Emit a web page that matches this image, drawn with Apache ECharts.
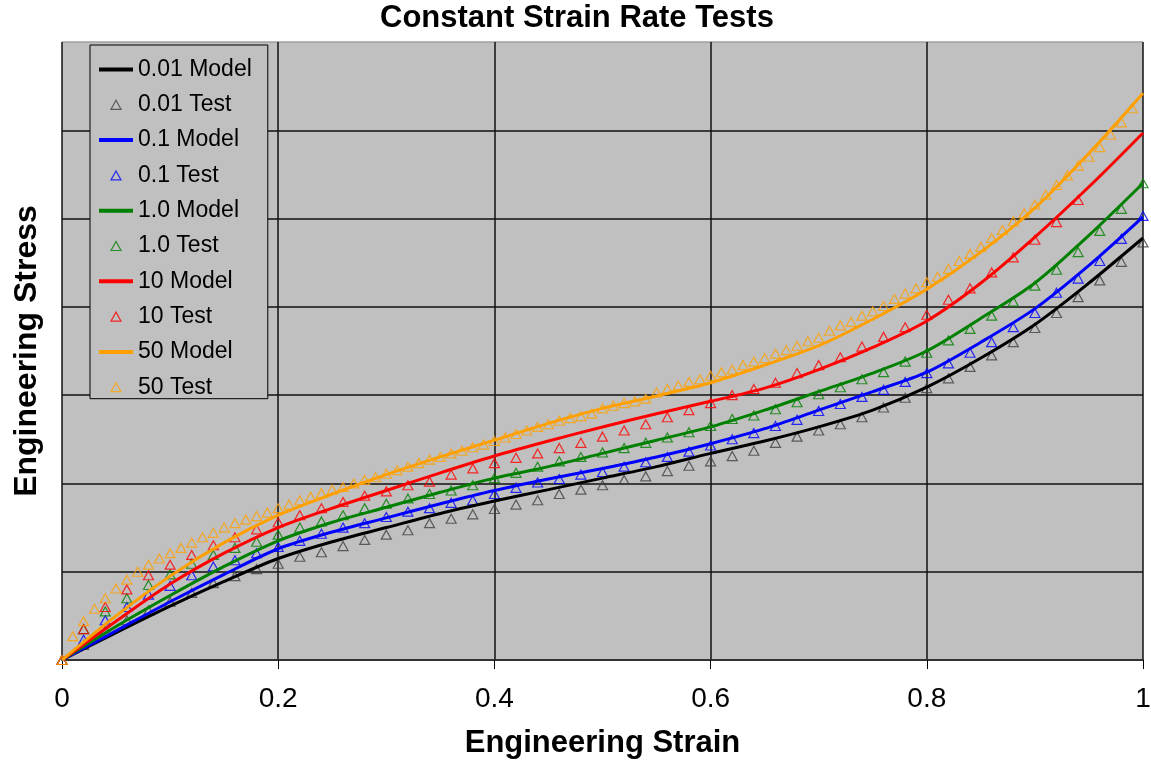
<!DOCTYPE html>
<html><head><meta charset="utf-8">
<script src="https://cdn.jsdelivr.net/npm/echarts@6/dist/echarts.min.js"></script>
<style>html,body{margin:0;padding:0;background:#fff}#chart{width:1151px;height:763px}</style>
</head><body><div id="chart"></div>
<script>
// ---- data ----
const modelStrain = [0, 0.05, 0.1, 0.15, 0.2, 0.25, 0.3, 0.35, 0.4, 0.45, 0.5, 0.55, 0.6, 0.65, 0.7, 0.75, 0.8, 0.85, 0.9, 0.95, 1.0];
const model001 = [0, 0.31, 0.61, 0.89, 1.15, 1.34, 1.50, 1.66, 1.80, 1.93, 2.06, 2.19, 2.34, 2.48, 2.64, 2.83, 3.09, 3.42, 3.80, 4.27, 4.78];
const model01  = [0, 0.33, 0.66, 0.97, 1.26, 1.45, 1.61, 1.77, 1.92, 2.05, 2.17, 2.30, 2.45, 2.62, 2.83, 3.04, 3.26, 3.60, 3.98, 4.47, 5.02];
const model1   = [0, 0.38, 0.73, 1.06, 1.35, 1.56, 1.73, 1.90, 2.06, 2.19, 2.34, 2.49, 2.64, 2.83, 3.04, 3.25, 3.50, 3.87, 4.27, 4.81, 5.40];
const model10  = [0, 0.44, 0.86, 1.21, 1.50, 1.72, 1.92, 2.12, 2.31, 2.48, 2.64, 2.79, 2.93, 3.08, 3.29, 3.54, 3.84, 4.27, 4.79, 5.36, 5.97];
const model50  = [0, 0.50, 0.95, 1.33, 1.64, 1.88, 2.10, 2.30, 2.49, 2.68, 2.85, 2.99, 3.14, 3.34, 3.56, 3.86, 4.20, 4.62, 5.12, 5.74, 6.42];

const testStrain = [0, 0.02, 0.04, 0.06, 0.08, 0.1, 0.12, 0.14, 0.16, 0.18, 0.2, 0.22, 0.24, 0.26, 0.28, 0.3, 0.32, 0.34, 0.36, 0.38, 0.4, 0.42, 0.44, 0.46, 0.48, 0.5, 0.52, 0.54, 0.56, 0.58, 0.6, 0.62, 0.64, 0.66, 0.68, 0.7, 0.72, 0.74, 0.76, 0.78, 0.8, 0.82, 0.84, 0.86, 0.88, 0.9, 0.92, 0.94, 0.96, 0.98, 1.0];
const test001 = [0, 0.17, 0.33, 0.45, 0.56, 0.66, 0.76, 0.87, 0.95, 1.03, 1.09, 1.17, 1.22, 1.29, 1.36, 1.42, 1.47, 1.55, 1.60, 1.65, 1.71, 1.76, 1.81, 1.88, 1.93, 1.98, 2.04, 2.08, 2.14, 2.20, 2.25, 2.31, 2.37, 2.46, 2.53, 2.60, 2.67, 2.75, 2.86, 2.97, 3.08, 3.19, 3.32, 3.45, 3.60, 3.76, 3.93, 4.11, 4.30, 4.51, 4.73];
const test01  = [0, 0.23, 0.45, 0.60, 0.74, 0.84, 0.96, 1.06, 1.13, 1.21, 1.28, 1.35, 1.43, 1.50, 1.55, 1.62, 1.68, 1.72, 1.78, 1.81, 1.88, 1.95, 2.01, 2.05, 2.10, 2.13, 2.19, 2.24, 2.30, 2.36, 2.43, 2.50, 2.57, 2.65, 2.72, 2.82, 2.90, 2.98, 3.06, 3.15, 3.25, 3.36, 3.48, 3.60, 3.77, 3.93, 4.16, 4.32, 4.52, 4.77, 5.03];
const test1   = [0, 0.35, 0.55, 0.70, 0.85, 0.97, 1.09, 1.19, 1.27, 1.34, 1.42, 1.50, 1.57, 1.64, 1.72, 1.77, 1.83, 1.88, 1.92, 1.98, 2.06, 2.12, 2.19, 2.25, 2.30, 2.35, 2.40, 2.46, 2.52, 2.58, 2.65, 2.73, 2.77, 2.84, 2.92, 3.01, 3.09, 3.18, 3.26, 3.38, 3.48, 3.62, 3.75, 3.90, 4.06, 4.24, 4.42, 4.62, 4.86, 5.11, 5.40];
const test10  = [0, 0.35, 0.60, 0.80, 0.96, 1.08, 1.19, 1.30, 1.39, 1.48, 1.56, 1.64, 1.72, 1.79, 1.86, 1.91, 1.98, 2.02, 2.10, 2.17, 2.23, 2.29, 2.34, 2.40, 2.46, 2.53, 2.60, 2.67, 2.75, 2.83, 2.91, 3.00, 3.07, 3.14, 3.25, 3.34, 3.43, 3.55, 3.66, 3.77, 3.91, 4.08, 4.21, 4.39, 4.56, 4.76, 4.96, 5.21];

const testStrain50 = [0, 0.01, 0.02, 0.03, 0.04, 0.05, 0.06, 0.07, 0.08, 0.09, 0.1, 0.11, 0.12, 0.13, 0.14, 0.15, 0.16, 0.17, 0.18, 0.19, 0.2, 0.21, 0.22, 0.23, 0.24, 0.25, 0.26, 0.27, 0.28, 0.29, 0.3, 0.31, 0.32, 0.33, 0.34, 0.35, 0.36, 0.37, 0.38, 0.39, 0.4, 0.41, 0.42, 0.43, 0.44, 0.45, 0.46, 0.47, 0.48, 0.49, 0.5, 0.51, 0.52, 0.53, 0.54, 0.55, 0.56, 0.57, 0.58, 0.59, 0.6, 0.61, 0.62, 0.63, 0.64, 0.65, 0.66, 0.67, 0.68, 0.69, 0.7, 0.71, 0.72, 0.73, 0.74, 0.75, 0.76, 0.77, 0.78, 0.79, 0.8, 0.81, 0.82, 0.83, 0.84, 0.85, 0.86, 0.87, 0.88, 0.89, 0.9, 0.91, 0.92, 0.93, 0.94, 0.95, 0.96, 0.97, 0.98, 0.99];
const test50 = [0, 0.27, 0.44, 0.58, 0.70, 0.81, 0.91, 1.00, 1.08, 1.15, 1.21, 1.27, 1.33, 1.39, 1.44, 1.50, 1.55, 1.59, 1.63, 1.67, 1.72, 1.76, 1.81, 1.85, 1.89, 1.93, 1.96, 2.00, 2.04, 2.07, 2.11, 2.15, 2.19, 2.23, 2.27, 2.30, 2.34, 2.37, 2.41, 2.44, 2.48, 2.52, 2.56, 2.60, 2.64, 2.67, 2.71, 2.74, 2.76, 2.79, 2.85, 2.88, 2.91, 2.93, 2.96, 3.03, 3.07, 3.11, 3.15, 3.18, 3.22, 3.26, 3.29, 3.34, 3.38, 3.42, 3.47, 3.51, 3.56, 3.61, 3.65, 3.73, 3.79, 3.83, 3.90, 3.95, 4.01, 4.09, 4.15, 4.21, 4.28, 4.34, 4.43, 4.52, 4.60, 4.68, 4.78, 4.87, 4.97, 5.06, 5.16, 5.27, 5.38, 5.49, 5.60, 5.70, 5.81, 5.95, 6.09, 6.25];

const rateLabels = ['0.01', '0.1', '1.0', '10', '50'];
const xTickLabels = ['0', '0.2', '0.4', '0.6', '0.8', '1'];

// ---- styles ----
const lineColors = ['#000000', '#0000ff', '#008000', '#ff0000', '#ffa000'];
const markColors = ['#404040', '#0000ff', '#008000', '#ff0000', '#ffa000'];
const FONT = 'Liberation Sans, Arial, sans-serif';
// legend triangle (10x9) centred in a 34x9 box, so it is not stretched
const legendTriangle = 'path://M0,0 M34,9 M12,9 L17,0 L22,9 Z';

const models = [model001, model01, model1, model10, model50];
const tests = [[testStrain, test001], [testStrain, test01], [testStrain, test1], [testStrain, test10], [testStrain50, test50]];

function pairs(xs, ys) { return ys.map((v, i) => [xs[i], v]); }

const series = [];
const legendData = [];
rateLabels.forEach((r, k) => {
  legendData.push({ name: r + ' Model', itemStyle: { color: 'rgba(0,0,0,0)', borderWidth: 0 },
    lineStyle: { width: 4, color: lineColors[k] } });
  legendData.push({ name: r + ' Test', icon: legendTriangle,
    itemStyle: { color: 'rgba(0,0,0,0)', borderColor: markColors[k], borderWidth: 1.2 } });
  series.push({
    name: r + ' Model', type: 'line', data: pairs(modelStrain, models[k]),
    symbol: 'none', smooth: 0.3, color: lineColors[k],
    lineStyle: { width: 3, color: lineColors[k] }, silent: true
  });
  series.push({
    name: r + ' Test', type: 'scatter', data: pairs(tests[k][0], tests[k][1]),
    symbol: 'triangle', symbolSize: [10, 9], color: markColors[k],
    itemStyle: { color: 'rgba(0,0,0,0)', borderColor: markColors[k], borderWidth: 1.2 },
    silent: true
  });
});

const yLineColors = ['#111', '#111', '#111', '#111', '#111', '#111', '#111', '#a0a0a0'];

const chart = echarts.init(document.getElementById('chart'));
chart.setOption({
  animation: false,
  backgroundColor: '#ffffff',
  title: {
    text: 'Constant Strain Rate Tests', left: 380, top: 3, padding: 0,
    textStyle: { fontFamily: FONT, fontWeight: 'bold', fontSize: 31, color: '#000' }
  },
  grid: { left: 62, right: 8, top: 42, bottom: 103, show: true, backgroundColor: '#c0c0c0', borderWidth: 0,
    containLabel: false, outerBoundsMode: 'none' },
  legend: {
    orient: 'vertical', left: 90, top: 45, itemWidth: 34, itemHeight: 9, itemGap: 12.3,
    padding: [13, 16, 0, 7], backgroundColor: '#c0c0c0', borderColor: '#000', borderWidth: 1,
    textStyle: { fontFamily: FONT, fontSize: 23, color: '#000', lineHeight: 23 },
    data: legendData, selectedMode: false
  },
  xAxis: {
    type: 'value', min: 0, max: 1, interval: 0.2,
    axisLine: { lineStyle: { color: '#333', width: 2 } },
    axisTick: { length: 9, lineStyle: { color: '#000' } },
    axisLabel: { margin: 25, fontSize: 28, fontFamily: FONT, color: '#000',
      formatter: (v) => xTickLabels[Math.round(v / 0.2)] },
    splitLine: { lineStyle: { color: '#111', width: 1.5 } },
    name: 'Engineering Strain', nameLocation: 'middle', nameGap: 68,
    nameTextStyle: { fontFamily: FONT, fontWeight: 'bold', fontSize: 31, color: '#000' }
  },
  yAxis: {
    type: 'value', min: 0, max: 7, interval: 1,
    axisLine: { show: false }, axisTick: { show: false }, axisLabel: { show: false },
    splitLine: { lineStyle: { color: yLineColors, width: 1.5 } },
    name: 'Engineering Stress', nameLocation: 'middle', nameGap: 19,
    nameTextStyle: { fontFamily: FONT, fontWeight: 'bold', fontSize: 32, color: '#000' }
  },
  series: series
});
</script>
</body></html>
